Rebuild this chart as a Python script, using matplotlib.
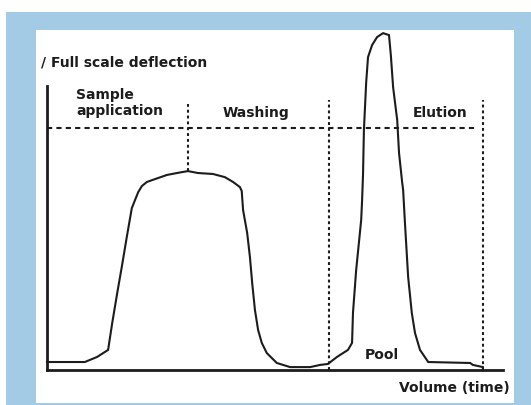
# Affinity chromatography profile: sample application, washing, elution
import numpy as np
import matplotlib
matplotlib.use('Agg')
import matplotlib.pyplot as plt
from matplotlib.patches import Rectangle

# volume (0-100 = full x axis) and detector signal (100 = full scale deflection)
volume = [0, 8.3, 11.0, 13.4, 14.3, 15.4, 16.4, 17.5, 18.6, 19.3, 20.0, 20.8,
          21.9, 23.7, 26.3, 28.5, 30.9, 33.1, 36.4, 39.0, 40.8, 42.3, 42.7,
          43.0, 43.9, 44.5, 45.0, 45.6, 46.3, 47.1, 48.2, 50.4, 53.3, 57.7,
          59.9, 61.6, 63.6, 66.0, 66.9, 67.1, 67.8, 68.9, 69.1, 69.3, 69.5,
          70.0, 70.4, 71.3, 72.4, 73.7, 75.0, 75.4, 75.9, 76.8, 77.2, 77.9,
          78.1, 78.5, 79.2, 80.0, 80.7, 81.8, 83.6, 92.8, 93.4, 95.6, 95.6]
signal = [3.3, 3.3, 5.4, 8.3, 19.4, 31.8, 42.6, 55.0, 66.9, 70.2, 73.5, 76.0,
          77.7, 78.9, 80.6, 81.4, 82.2, 81.4, 81.0, 79.7, 77.7, 75.6, 74.0,
          66.1, 56.6, 46.7, 35.9, 24.8, 16.5, 11.2, 7.0, 2.9, 1.2, 1.2,
          2.1, 2.5, 5.4, 8.3, 11.2, 23.6, 41.3, 62.0, 70.2, 80.6, 99.2,
          119.0, 129.3, 134.3, 137.6, 139.2, 138.4, 130.2, 116.9, 103.3, 89.7, 77.3,
          74.4, 60.7, 38.4, 23.6, 15.3, 8.3, 3.3, 2.9, 2.1, 1.2, 0]

full_scale = 100
# phase boundaries: (x, top of dotted line, bottom of dotted line)
boundaries = [(30.9, 109.9, 82.2), (61.8, 111.6, 0), (95.6, 111.6, 0)]

ink = '#1c1c1c'
blue = '#a4cbe5'

fig = plt.figure(figsize=(5.31, 4.05), dpi=100)
W, H = 531, 405
# blue frame and white panel, behind the axes
fig.patches.append(Rectangle((6 / W, 0), 525 / W, 393 / H, transform=fig.transFigure,
                             facecolor=blue, edgecolor='none', zorder=-2))
fig.patches.append(Rectangle((36 / W, 2 / H), 478 / W, 373 / H, transform=fig.transFigure,
                             facecolor='white', edgecolor='none', zorder=-1))

ax = fig.add_axes([47 / W, 35 / H, 456 / W, 340 / H])
ax.set_facecolor('none')
ax.set_xlim(0, 100)
ax.set_ylim(0, 140.5)

ax.plot(volume, signal, color=ink, lw=1.5, clip_on=False, solid_joinstyle='miter')

# full scale line and phase boundaries
ax.plot([0, 94.5], [full_scale, full_scale], color=ink, lw=1.5, ls=(0, (2.5, 2)))
for bx, top, bottom in boundaries:
    ax.plot([bx, bx], [bottom, top], color=ink, lw=1.5, ls=(0, (1.4, 1.4)))

for s in ['top', 'right']:
    ax.spines[s].set_visible(False)
ax.spines['left'].set_bounds(0, 117.4)
for s in ['left', 'bottom']:
    ax.spines[s].set_linewidth(2)
    ax.spines[s].set_color(ink)
ax.set_xticks([])
ax.set_yticks([])

fs = 10
kw = dict(color=ink, fontsize=fs, fontweight='bold', clip_on=False)
ax.text(-1.3, 126.9, '/ Full scale deflection', ha='left', va='center', **kw)
ax.text(6.4, 110.3, 'Sample\napplication', ha='left', va='center', linespacing=1.2, **kw)
ax.text(38.4, 106.2, 'Washing', ha='left', va='center', **kw)
ax.text(80.3, 106.2, 'Elution', ha='left', va='center', **kw)
ax.text(69.7, 6.2, 'Pool', ha='left', va='center', **kw)
ax.text(101.5, -7.4, 'Volume (time)', ha='right', va='center', **kw)

fig.savefig('out.png', dpi=100)
